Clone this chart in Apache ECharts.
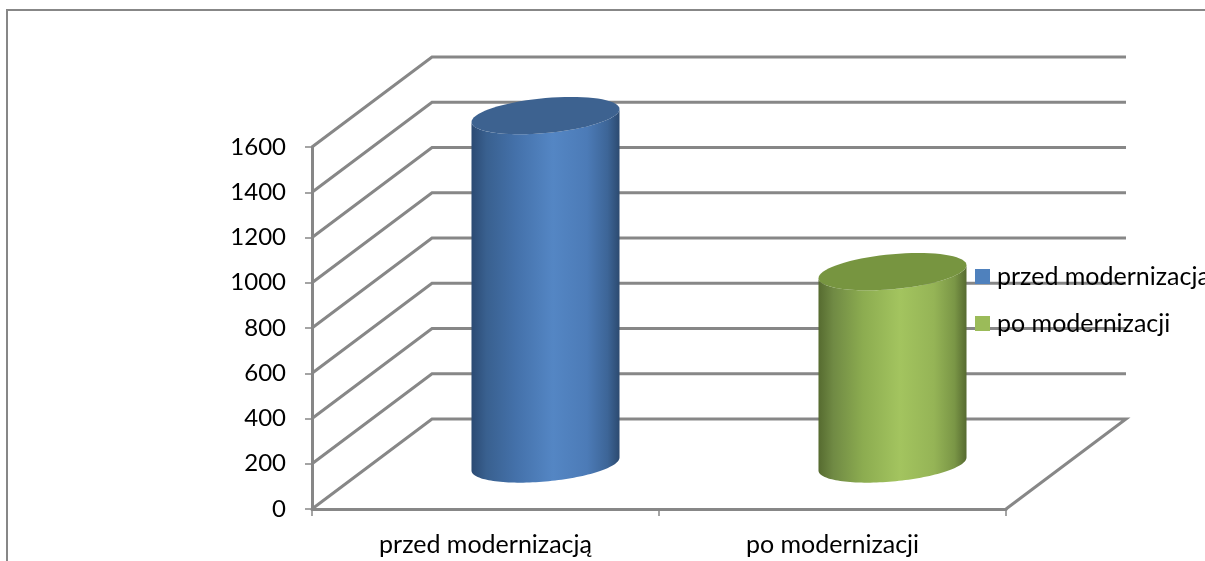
<!DOCTYPE html>
<html>
<head>
<meta charset="utf-8">
<style>html,body{margin:0;padding:0;background:#fff}#c{width:1205px;height:561px}</style>
<script src="https://cdn.jsdelivr.net/npm/echarts@6/dist/echarts.min.js"></script>
</head>
<body>
<div id="c"></div>
<script>
const categories = ['przed modernizacją', 'po modernizacji'];
const seriesNames = ['przed modernizacją', 'po modernizacji'];
const valuesBefore = [1540];
const valuesAfter = [850];
const yTicks = [0, 200, 400, 600, 800, 1000, 1200, 1400, 1600];

const GREY = '#878787', FONT = 'Lato, "Open Sans", sans-serif', FS = 25, FS_Y = 24;
const DX = 120, DY = -90;

function wallItem(params, api) {
  const band = api.size([1, 0])[0];
  const v = api.value(0);
  const p = api.coord([0, v]);
  const x0 = p[0] - band / 2, y0 = p[1];
  const xr = api.coord([categories.length - 1, v])[0] + band / 2;
  const pts = [[x0, y0], [x0 + DX, y0 + DY], [xr + DX, y0 + DY]];
  if (v === 0) pts.push([xr, y0]);
  return { type: 'polyline', shape: { points: pts },
    style: { fill: null, stroke: GREY, lineWidth: 3 }, silent: true };
}

function ellipsePts(cx, cy, a, b, skew, from, to) {
  const out = [];
  const n = 72;
  for (let i = 0; i <= n; i++) {
    const t = from + (to - from) * i / n;
    out.push([cx + a * Math.cos(t), cy + b * Math.sin(t) - skew * Math.cos(t)]);
  }
  return out;
}

function cylinder(colors) {
  return function (params, api) {
    const cat = api.value(0), val = api.value(1);
    const band = api.size([1, 0])[0];
    const a = band * 0.2133, b = 17.5, skew = 6.5;
    const base = api.coord([cat, 0]), top = api.coord([cat, val]);
    const cx = base[0] + DX / 2, by = base[1] + DY / 2, ty = top[1] + DY / 2;
    const lower = ellipsePts(cx, by, a, b, skew, Math.PI, 0);
    const upper = ellipsePts(cx, ty, a, b, skew, 0, Math.PI);
    const body = lower.concat(upper);
    return { type: 'group', children: [
      { type: 'polygon', shape: { points: body }, silent: true, style: {
        fill: { type: 'linear', x: 0, y: 0, x2: 1, y2: 0, colorStops: colors.body } } },
      { type: 'polygon', shape: { points: ellipsePts(cx, ty, a, b, skew, 0, Math.PI * 2) },
        silent: true, style: { fill: colors.top } }
    ]};
  };
}

const blue = { top: '#3d6290', body: [
  { offset: 0, color: '#2b4a73' }, { offset: 0.1, color: '#39608f' }, { offset: 0.3, color: '#4471aa' },
  { offset: 0.55, color: '#5486c4' }, { offset: 0.78, color: '#4c7bb7' }, { offset: 0.92, color: '#3d6597' },
  { offset: 1, color: '#2c4a70' } ] };
const green = { top: '#779540', body: [
  { offset: 0, color: '#566b30' }, { offset: 0.1, color: '#708a44' }, { offset: 0.3, color: '#8cac50' },
  { offset: 0.55, color: '#a3c45f' }, { offset: 0.78, color: '#95b456' }, { offset: 0.92, color: '#7a9646' },
  { offset: 1, color: '#566a30' } ] };

const chart = echarts.init(document.getElementById('c'), null, { renderer: 'canvas' });
chart.setOption({
  animation: false,
  backgroundColor: '#fff',
  tooltip: { show: false },
  textStyle: { fontFamily: FONT },
  grid: { left: 312, top: 147, width: 694, height: 362, containLabel: false },
  graphic: [{ type: 'polyline', z: 0, silent: true,
    shape: { points: [[7, 561], [7, 10], [1205, 10]] },
    style: { fill: null, stroke: GREY, lineWidth: 2 } }],
  legend: {
    orient: 'vertical', left: 975, top: 263, itemWidth: 15, itemHeight: 15, itemGap: 20,
    icon: 'rect', data: seriesNames, selectedMode: false, padding: 0, z: 10,
    textStyle: { fontFamily: FONT, fontSize: FS, color: '#000', padding: [0, 0, 0, 2], lineHeight: 27 }
  },
  xAxis: {
    type: 'category', data: categories,
    axisLine: { lineStyle: { color: GREY, width: 3 } },
    axisTick: { show: true, length: 7, alignWithLabel: false, lineStyle: { color: GREY, width: 1.5 } },
    axisLabel: { color: '#000', fontSize: FS, fontFamily: FONT, margin: 23 },
    splitLine: { show: false }
  },
  yAxis: {
    type: 'value', min: 0, max: 1600, interval: 200,
    axisLine: { show: true, lineStyle: { color: GREY, width: 3 } },
    axisTick: { show: true, length: 7, lineStyle: { color: GREY, width: 1.5 } },
    axisLabel: { color: '#000', fontSize: FS_Y, fontFamily: FONT, margin: 26, padding: [4, 0, 0, 0], formatter: v => String(v) },
    splitLine: { show: false }
  },
  series: [
    { type: 'custom', name: 'walls', coordinateSystem: 'cartesian2d', silent: true, z: 1,
      renderItem: wallItem, data: yTicks.map(v => [v]), encode: { y: 0 } },
    { type: 'custom', name: seriesNames[0], coordinateSystem: 'cartesian2d', z: 3,
      itemStyle: { color: '#4f81bd' }, renderItem: cylinder(blue),
      data: valuesBefore.map((v, i) => [i, v]), encode: { x: 0, y: 1 } },
    { type: 'custom', name: seriesNames[1], coordinateSystem: 'cartesian2d', z: 3,
      itemStyle: { color: '#9bbb59' }, renderItem: cylinder(green),
      data: valuesAfter.map((v, i) => [i + 1, v]), encode: { x: 0, y: 1 } }
  ]
});
</script>
</body>
</html>
